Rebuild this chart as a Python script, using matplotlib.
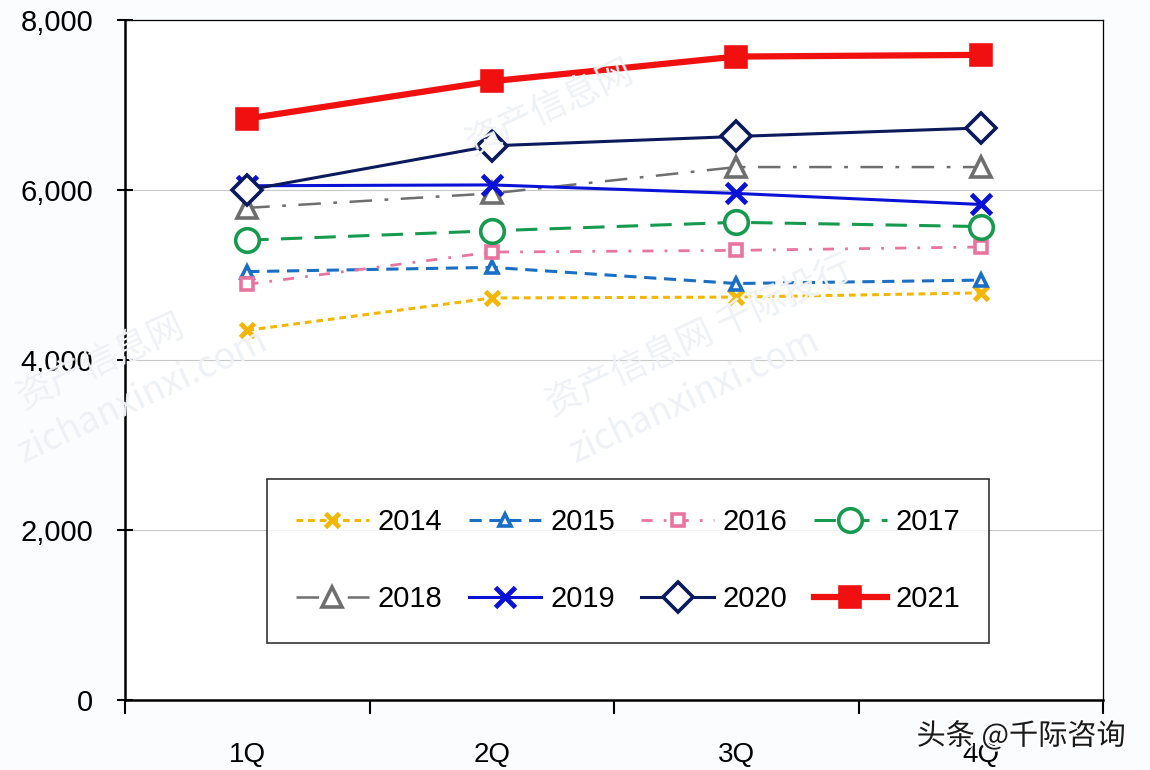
import numpy as np
import matplotlib.pyplot as plt
import matplotlib.patheffects as pe
from matplotlib.ticker import FuncFormatter

plt.rcParams['font.family'] = ['Liberation Sans', 'DejaVu Sans']

# 季度及各年数据
quarters = ['1Q', '2Q', '3Q', '4Q']
years = ['2014', '2015', '2016', '2017', '2018', '2019', '2020', '2021']
v2014 = [4350, 4730, 4740, 4790]
v2015 = [5040, 5090, 4900, 4940]
v2016 = [4890, 5270, 5290, 5330]
v2017 = [5410, 5520, 5620, 5570]
v2018 = [5790, 5960, 6270, 6270]
v2019 = [6050, 6060, 5960, 5830]
v2020 = [6000, 6520, 6630, 6730]
v2021 = [6840, 7280, 7570, 7590]
series = [v2014, v2015, v2016, v2017, v2018, v2019, v2020, v2021]

# 样式: 颜色, 线型, 线宽, 标记, 标记大小, 填充
styles = [
    ('#f2b705', (0, (2.2, 1.6)), 2.2, 'x', 10, None),
    ('#1a6fc4', (0, (4, 2.5)), 2.2, '^', 9, 'white'),
    ('#ea74a0', (0, (4, 4, 1, 4)), 2.0, 's', 8, 'white'),
    ('#159a4e', (0, (7, 4)), 2.2, 'o', 17, 'white'),
    ('#6e6e6e', (0, (9, 5, 1.5, 5)), 1.8, '^', 15, 'white'),
    ('#0a12d6', '-', 2.2, 'x', 15, None),
    ('#0a1a5c', '-', 2.2, 'D', 15, 'white'),
    ('#f01010', '-', 4.5, 's', 14, '#f01010'),
]

fig = plt.figure(figsize=(11.5, 7.7), dpi=100)
fig.patch.set_facecolor('#fbfcfe')
ax = fig.add_axes([0.1087, 0.0909, 0.8505, 0.8831])
ax.set_facecolor('white')

x = np.arange(len(quarters))
handles = []
for yr, vals, (c, ls, lw, mk, ms, fc) in zip(years, series, styles):
    mew = 3.5 if mk == 'x' else 2.6
    h, = ax.plot(x, vals, color=c, linestyle=ls, linewidth=lw, marker=mk,
                 markersize=ms, markerfacecolor=fc if fc else c,
                 markeredgecolor=c, markeredgewidth=mew, label=yr)
    handles.append(h)

ax.set_xlim(-0.5, 3.5)
ax.set_ylim(0, 8000)
ax.set_yticks([0, 2000, 4000, 6000, 8000])
ax.yaxis.set_major_formatter(FuncFormatter(lambda v, p: f'{int(v):,}'))
ax.grid(axis='y', color='#c8c8c8', linewidth=0.8)
ax.set_axisbelow(True)

ax.set_xticks(x)
ax.set_xticklabels(quarters)
ax.set_xticks(np.arange(-0.5, 4.0, 1.0), minor=True)
ax.tick_params(axis='x', which='major', length=0, pad=30, labelsize=20)
ax.tick_params(axis='x', which='minor', length=10, width=1.5, direction='out')
ax.tick_params(axis='y', length=12, width=1.5, direction='inout', pad=17,
               labelsize=21)

for s in ['left', 'bottom']:
    ax.spines[s].set_linewidth(1.8)
for s in ['top', 'right']:
    ax.spines[s].set_linewidth(0.9)

# 图例按行排列（matplotlib 按列填充，所以重新排序）
order = [0, 4, 1, 5, 2, 6, 3, 7]
leg = ax.legend([handles[i] for i in order], [years[i] for i in order],
                ncol=4, loc='lower left', bbox_to_anchor=(0.13, 0.063),
                frameon=True, fancybox=False, edgecolor='black',
                handlelength=2.5, columnspacing=0.9, labelspacing=1.7,
                borderpad=1.0, handletextpad=0.3,
                prop={'size': 21})
leg.get_frame().set_linewidth(1.2)

# 水印
wm = dict(fontsize=26, color='#eef1f5', rotation=25, zorder=0,
          family=['Noto Sans CJK SC', 'DejaVu Sans'])
fig.text(0.40, 0.80, '资产信息网', **wm)
fig.text(0.47, 0.46, '资产信息网 千际投行', **wm)
fig.text(0.49, 0.40, 'zichanxinxi.com', **wm)
fig.text(0.01, 0.47, '资产信息网', **wm)
fig.text(0.01, 0.40, 'zichanxinxi.com', **wm)

fig.text(0.797, 0.033, '头条 @千际咨询', fontsize=21, color='#1a1a1a',
         family=['Noto Sans CJK SC', 'DejaVu Sans'],
         path_effects=[pe.withStroke(linewidth=3, foreground='white')])

plt.savefig('out.png', dpi=100, facecolor=fig.get_facecolor())
